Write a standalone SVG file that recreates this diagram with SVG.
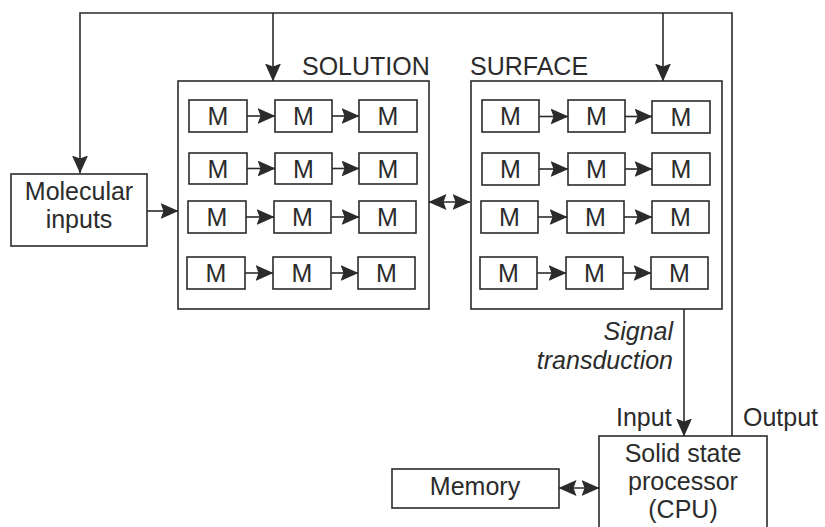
<svg xmlns="http://www.w3.org/2000/svg" width="825" height="527" viewBox="0 0 825 527">
<style>
.box{fill:#fff;stroke:#2b2b2b;stroke-width:1.6}
.ln{fill:none;stroke:#2b2b2b;stroke-width:1.6}
.t{font-family:"Liberation Sans",Arial,sans-serif;font-size:25px;fill:#2b2b2b}
.m{font-family:"Liberation Sans",Arial,sans-serif;font-size:25px;fill:#2b2b2b;text-anchor:middle}
.c{text-anchor:middle}
.i{font-style:italic;text-anchor:end}
</style>
<defs>
<marker id="ah" markerUnits="userSpaceOnUse" markerWidth="18" markerHeight="16" refX="17.5" refY="8" orient="auto-start-reverse" viewBox="0 0 18 16">
<path d="M0,0 L18,8 L0,16 L3,8 Z" fill="#2b2b2b"/>
</marker>
</defs>
<rect width="825" height="527" fill="#fff"/>
<g id="molecular-inputs">
<rect class="box" x="11" y="174" width="136" height="72"/>
<text class="t c" x="79" y="200">Molecular</text>
<text class="t c" x="79" y="228">inputs</text>
</g>
<g id="solution">
<rect class="box" x="178" y="81" width="251" height="228"/>
<text class="t" x="302" y="75">SOLUTION</text>
</g>
<g id="solution-m">
<rect class="box" x="189" y="100" width="58" height="32"/><text class="m" x="218" y="125">M</text>
<rect class="box" x="275" y="100" width="57" height="32"/><text class="m" x="303.5" y="125">M</text>
<rect class="box" x="359" y="100" width="58" height="32"/><text class="m" x="388" y="125">M</text>
<rect class="box" x="189" y="153" width="58" height="31"/><text class="m" x="218" y="177.5">M</text>
<rect class="box" x="275" y="153" width="57" height="31"/><text class="m" x="303.5" y="177.5">M</text>
<rect class="box" x="359" y="153" width="58" height="31"/><text class="m" x="388" y="177.5">M</text>
<rect class="box" x="188" y="201" width="58" height="32"/><text class="m" x="217" y="226">M</text>
<rect class="box" x="274" y="201" width="57" height="32"/><text class="m" x="302.5" y="226">M</text>
<rect class="box" x="359" y="201" width="57" height="32"/><text class="m" x="387.5" y="226">M</text>
<rect class="box" x="187" y="257" width="58" height="32"/><text class="m" x="216" y="282">M</text>
<rect class="box" x="273" y="257" width="58" height="32"/><text class="m" x="302" y="282">M</text>
<rect class="box" x="358" y="257" width="57" height="32"/><text class="m" x="386.5" y="282">M</text>
</g>
<g id="surface">
<rect class="box" x="471" y="81" width="251" height="228"/>
<text class="t" x="470" y="75">SURFACE</text>
</g>
<g id="surface-m">
<rect class="box" x="482" y="100" width="57" height="32"/><text class="m" x="510.5" y="125">M</text>
<rect class="box" x="568" y="100" width="57" height="32"/><text class="m" x="596.5" y="125">M</text>
<rect class="box" x="652" y="101" width="58" height="32"/><text class="m" x="681" y="126">M</text>
<rect class="box" x="482" y="153" width="57" height="32"/><text class="m" x="510.5" y="178">M</text>
<rect class="box" x="568" y="153" width="57" height="32"/><text class="m" x="596.5" y="178">M</text>
<rect class="box" x="652" y="153" width="58" height="32"/><text class="m" x="681" y="178">M</text>
<rect class="box" x="481" y="201" width="57" height="32"/><text class="m" x="509.5" y="226">M</text>
<rect class="box" x="567" y="201" width="57" height="32"/><text class="m" x="595.5" y="226">M</text>
<rect class="box" x="652" y="201" width="57" height="32"/><text class="m" x="680.5" y="226">M</text>
<rect class="box" x="480" y="257" width="57" height="32"/><text class="m" x="508.5" y="282">M</text>
<rect class="box" x="566" y="257" width="57" height="32"/><text class="m" x="594.5" y="282">M</text>
<rect class="box" x="651" y="257" width="57" height="32"/><text class="m" x="679.5" y="282">M</text>
</g>
<g id="labels">
<text class="t i" x="673" y="340">Signal</text>
<text class="t i" x="673" y="369">transduction</text>
<text class="t" x="616" y="426">Input</text>
<text class="t" x="743" y="426">Output</text>
</g>
<g id="cpu">
<rect class="box" x="599" y="436" width="168" height="100"/>
<text class="t c" x="683" y="462">Solid state</text>
<text class="t c" x="683" y="490">processor</text>
<text class="t c" x="683" y="518">(CPU)</text>
</g>
<g id="memory">
<rect class="box" x="392" y="469" width="167" height="39"/>
<text class="t c" x="475" y="495">Memory</text>
</g>
<g id="connectors">
<path class="ln" d="M732,436 V13 H80 V173" marker-end="url(#ah)"/>
<path class="ln" d="M273,13 V81" marker-end="url(#ah)"/>
<path class="ln" d="M663,13 V81" marker-end="url(#ah)"/>
<path class="ln" d="M147,211 H178" marker-end="url(#ah)"/>
<path class="ln" d="M429,202 H470" marker-start="url(#ah)" marker-end="url(#ah)"/>
<path class="ln" d="M684,309 V436" marker-end="url(#ah)"/>
<path class="ln" d="M559,488 H599" marker-start="url(#ah)" marker-end="url(#ah)"/>
<path class="ln" d="M247,116 H275" marker-end="url(#ah)"/><path class="ln" d="M332,116 H359" marker-end="url(#ah)"/>
<path class="ln" d="M247,168.5 H275" marker-end="url(#ah)"/><path class="ln" d="M332,168.5 H359" marker-end="url(#ah)"/>
<path class="ln" d="M246,217 H274" marker-end="url(#ah)"/><path class="ln" d="M331,217 H359" marker-end="url(#ah)"/>
<path class="ln" d="M245,273 H273" marker-end="url(#ah)"/><path class="ln" d="M331,273 H358" marker-end="url(#ah)"/>
<path class="ln" d="M539,116.5 H568" marker-end="url(#ah)"/><path class="ln" d="M625,116.5 H652" marker-end="url(#ah)"/>
<path class="ln" d="M539,169 H568" marker-end="url(#ah)"/><path class="ln" d="M625,169 H652" marker-end="url(#ah)"/>
<path class="ln" d="M538,217 H567" marker-end="url(#ah)"/><path class="ln" d="M624,217 H652" marker-end="url(#ah)"/>
<path class="ln" d="M537,273 H566" marker-end="url(#ah)"/><path class="ln" d="M623,273 H651" marker-end="url(#ah)"/>
</g>
</svg>
